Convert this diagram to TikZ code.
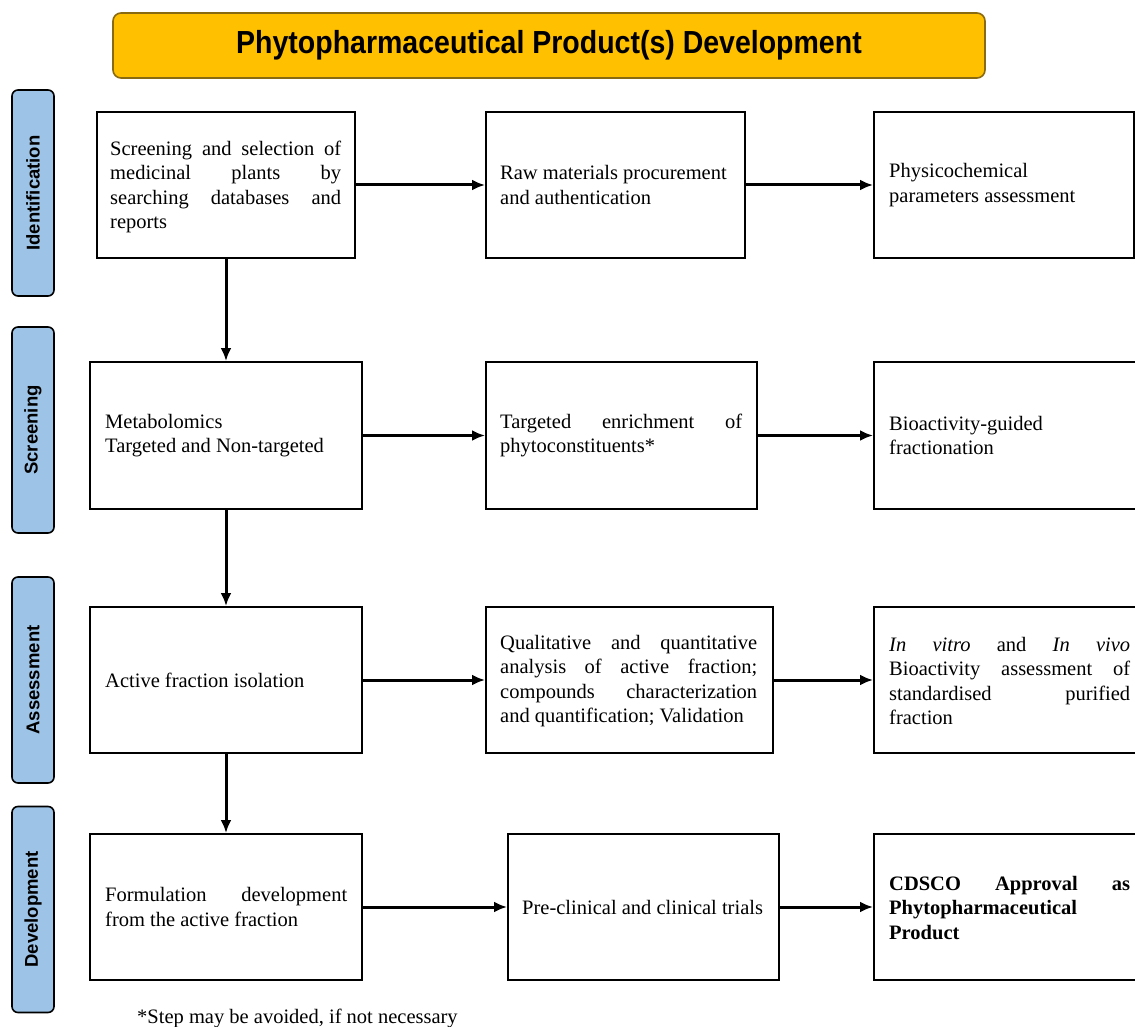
\documentclass[tikz,border=0pt]{standalone}
\usepackage{fontspec}
\setmainfont{Liberation Serif}
\newfontfamily\labelfont{Liberation Sans}
\usetikzlibrary{arrows.meta}
\definecolor{titlefill}{HTML}{FFC000}
\definecolor{titledraw}{HTML}{8A6A10}
\definecolor{stagefill}{HTML}{9DC3E6}
\tikzset{
    stepbox/.style={draw, line width=2pt, inner sep=0pt, anchor=north west},
    steptext/.style={anchor=west, align=justify, inner sep=0pt,
        font=\fontsize{20.5}{24.5}\selectfont},
    stage/.style={draw, fill=stagefill, line width=1.6pt, rounded corners=6pt,
        minimum width=42pt, minimum height=206pt, inner sep=0pt},
    flow/.style={line width=3pt, -{Latex[length=13pt,width=11pt]}}
}
\begin{document}
\begin{tikzpicture}[x=1pt, y=-1pt]
\clip (0,0) rectangle (1135,1027);
\fill[white] (0,0) rectangle (1135,1027);
% title
\node[draw=titledraw, fill=titlefill, line width=1.6pt, rounded corners=8pt,
    minimum width=872pt, minimum height=65pt] (title) at (549,45.5)
    {\scalebox{1}[1.12]{\labelfont\bfseries\fontsize{28.5}{32}\selectfont Phytopharmaceutical Product(s) Development}};
% stages
\foreach \name/\ypos in {Identification/193, Screening/430, Assessment/680, Development/909.5}
{
    \node[stage] (\name) at (33,\ypos)
        {\rotatebox{90}{\labelfont\bfseries\fontsize{18.5}{21}\selectfont \name}};
}
% boxes: row 1
\node[stepbox, minimum width=258pt, minimum height=146pt] (plants) at (96,111) {};
\node[stepbox, minimum width=259pt, minimum height=146pt] (raw) at (485,111) {};
\node[stepbox, minimum width=260pt, minimum height=146pt] (physico) at (873,111) {};
% row 2
\node[stepbox, minimum width=272pt, minimum height=147pt] (metab) at (89,361) {};
\node[stepbox, minimum width=271pt, minimum height=147pt] (enrich) at (485,361) {};
\node[stepbox, minimum width=272pt, minimum height=147pt] (bioguided) at (873,361) {};
% row 3
\node[stepbox, minimum width=272pt, minimum height=146pt] (active) at (89,606) {};
\node[stepbox, minimum width=287pt, minimum height=146pt] (quali) at (485,606) {};
\node[stepbox, minimum width=272pt, minimum height=146pt] (invitro) at (873,606) {};
% row 4
\node[stepbox, minimum width=272pt, minimum height=146pt] (formul) at (89,833) {};
\node[stepbox, minimum width=271pt, minimum height=146pt] (trials) at (507,833) {};
\node[stepbox, minimum width=272pt, minimum height=146pt] (cdsco) at (873,833) {};
% texts
\node[steptext, text width=231pt] at ([xshift=14pt, yshift=-2pt]plants.west)
    {Screening and selection of\linebreak medicinal plants by\linebreak searching databases and\linebreak reports};
\node[steptext, text width=235pt] at ([xshift=15pt]raw.west)
    {Raw materials procurement\\and authentication};
\node[steptext, text width=235pt] at ([xshift=16pt]physico.west)
    {Physicochemical\\parameters assessment};
\node[steptext, text width=242pt] at ([xshift=16pt]metab.west)
    {Metabolomics\\Targeted and Non-targeted};
\node[steptext, text width=242pt] at ([xshift=15pt]enrich.west)
    {Targeted enrichment of\linebreak phytoconstituents*};
\node[steptext, text width=242pt] at ([xshift=16pt]bioguided.west)
    {Bioactivity-guided\\fractionation};
\node[steptext, text width=242pt] at ([xshift=16pt]active.west)
    {Active fraction isolation};
\node[steptext, text width=257pt] at ([xshift=15pt, yshift=-1pt]quali.west)
    {Qualitative and quantitative\linebreak analysis of active fraction;\linebreak compounds characterization\linebreak and quantification; Validation};
\node[steptext, text width=241pt] at ([xshift=16pt, yshift=-1pt]invitro.west)
    {\textit{In} \textit{vitro} and \textit{In} \textit{vivo}\linebreak Bioactivity assessment of\linebreak standardised purified\linebreak fraction};
\node[steptext, text width=242pt] at ([xshift=16pt]formul.west)
    {Formulation development\linebreak from the active fraction};
\node[steptext, text width=242pt] at ([xshift=15pt]trials.west)
    {Pre-clinical and clinical trials};
\node[steptext, text width=241pt] at ([xshift=16pt, yshift=-1pt]cdsco.west)
    {\bfseries CDSCO Approval as\linebreak Phytopharmaceutical\\Product};
% footnote
\node[anchor=base west, inner sep=0pt, font=\fontsize{20.5}{24.5}\selectfont] (note) at (137,1023)
    {*Step may be avoided, if not necessary};
% arrows
\draw[flow] (plants) -- (raw);
\draw[flow] (raw) -- (physico);
\draw[flow] (metab) -- (enrich);
\draw[flow] (enrich.east) -- (bioguided.west |- enrich.east);
\draw[flow] (active) -- (quali);
\draw[flow] (quali.east) -- (invitro.west |- quali.east);
\draw[flow] (formul) -- (trials);
\draw[flow] (trials.east) -- (cdsco.west |- trials.east);
\draw[flow] (plants.south -| metab.north) -- (metab.north);
\draw[flow] (metab) -- (active);
\draw[flow] (active) -- (formul);
\end{tikzpicture}
\end{document}
